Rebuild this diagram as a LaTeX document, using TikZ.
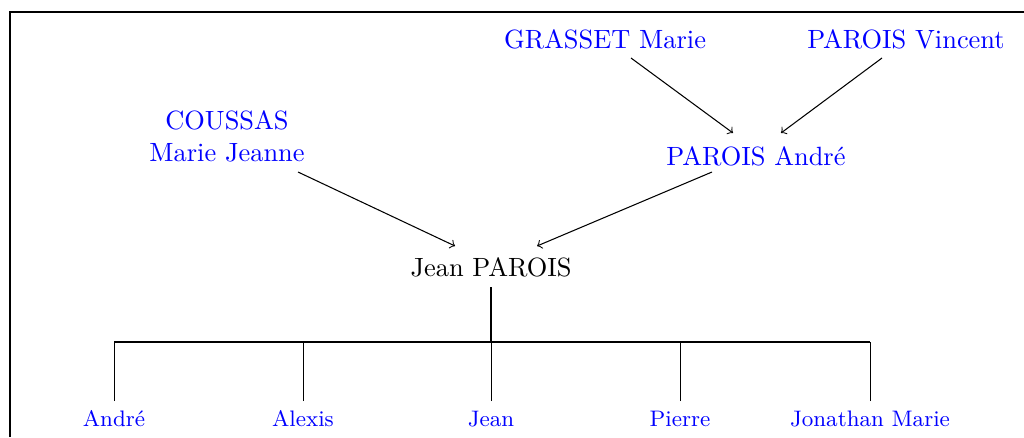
\documentclass[tikz,border=0pt]{standalone}
\usetikzlibrary{calc}
\begin{document}
\begin{tikzpicture}[x=0.3788pt,y=-0.3788pt,
  person/.style={text=blue,inner sep=0pt,anchor=base},
  main/.style={text=black,inner sep=0pt,anchor=base},
  kid/.style={text=blue,inner sep=0pt,anchor=base,font=\fontsize{8.5}{10}\selectfont},
  arr/.style={->,line width=0.4pt}]
\useasboundingbox (0,0) rectangle (1024,437);
\draw[line width=0.4pt] (10,437) -- (10,12) -- (1024,12);
% grandparents
\node[person] (gm) at (605,48) {GRASSET Marie};
\node[person] (pv) at (906,48) {PAROIS Vincent};
% parents
\node[person] (cm1) at (227,129) {COUSSAS};
\node[person] (cm) at (227,161) {Marie Jeanne};
\node[person] (pa) at (756,165) {PAROIS Andr\'e};
% main
\node[main] (jp) at (491,276) {Jean PAROIS};
% arrows
\draw[arr] ($(gm.base)+(26,10)$) -- ($(pa.base)+(-23,-32)$);
\draw[arr] ($(pv.base)+(-24,10)$) -- ($(pa.base)+(25,-32)$);
\draw[arr] ($(cm.base)+(71,11)$) -- ($(jp.base)+(-36,-30)$);
\draw[arr] ($(pa.base)+(-44,7)$) -- ($(jp.base)+(46,-30)$);
% children
\node[kid] (k1) at (114,426) {Andr\'e};
\node[kid] (k2) at (303,426) {Alexis};
\node[kid] (k3) at (491,426) {Jean};
\node[kid] (k4) at (680,426) {Pierre};
\node[kid] (k5) at (870,426) {Jonathan Marie};
\coordinate (bar) at (491,342);
\draw[line width=0.6pt] ($(jp.base)+(0,11)$) -- (bar);
\draw[line width=0.4pt] (k1.base |- bar) -- (k5.base |- bar);
\foreach \k in {k1,k2,k3,k4,k5}
  \draw[line width=0.3pt] ($(\k.base)+(0,-25)$) -- (\k.base |- bar);
\end{tikzpicture}
\end{document}
